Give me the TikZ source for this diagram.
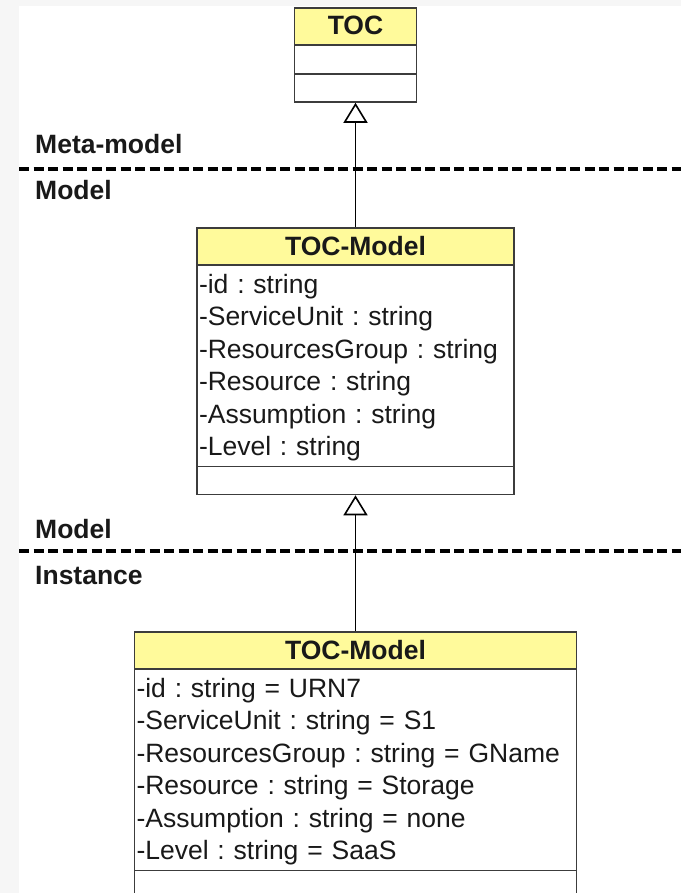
\documentclass[tikz,border=0pt]{standalone}
\usepackage{fontspec}
\setmainfont{Liberation Sans}
\usepackage{tikz}
\usetikzlibrary{shapes.multipart, positioning, arrows.meta}

\definecolor{umlyellow}{RGB}{255,250,155}
\definecolor{umlline}{RGB}{60,60,60}
\definecolor{pagegrey}{RGB}{246,246,246}
\setlength\parindent{0pt}
\frenchspacing
\newcommand\umlfont{\fontsize{26.5}{32.5}\selectfont}
\newcommand\umlhead[1]{\hfill\textbf{#1}\rule[-9.2pt]{0pt}{35.4pt}\hfill\null}
\newcommand\firstln{\rule{0pt}{27.2pt}}
\newcommand\lastln{\rule[-10.2pt]{0pt}{10.2pt}}

\begin{document}
\begin{tikzpicture}[x=1pt, y=-1pt,
	umlclass/.style={rectangle split, rectangle split parts=3, draw=umlline, line width=1.6pt,
		rectangle split part fill={umlyellow,white,white}, inner xsep=2pt, inner ysep=0pt,
		align=left, font=\umlfont, text=black!90, anchor=north},
	lvl/.style={anchor=base west, inner sep=0pt, font=\umlfont\bfseries, text=black!90},
	divider/.style={line width=3.5pt, dash pattern=on 10pt off 4.5pt},
	gen/.style={-{Triangle[open, length=20pt, width=24pt]}, line width=1.6pt}]
\useasboundingbox (0,0) rectangle (681,893);
\fill[pagegrey] (0,0) rectangle (681,893);
\fill[white] (19,6) rectangle (681,893);

\node[umlclass, text width=118pt] (toc) at (355.5,7.2)
	{\umlhead{TOC}\nodepart{two}\rule{0pt}{27.4pt}\nodepart{three}\rule{0pt}{26.4pt}};
\node[umlclass, text width=313pt] (tocmodel) at (355.5,227.2)
	{\umlhead{TOC-Model}
	\nodepart{two}\firstln-id : string\\
	-ServiceUnit : string\\
	-ResourcesGroup : string\\
	-Resource : string\\
	-Assumption : string\\
	-Level : string\lastln
	\nodepart{three}\rule{0pt}{26.4pt}};
\node[umlclass, text width=438pt] (tocinst) at (355.5,631.2)
	{\umlhead{TOC-Model}
	\nodepart{two}\firstln-id : string = URN7\\
	-ServiceUnit : string = S1\\
	-ResourcesGroup : string = GName\\
	-Resource : string = Storage\\
	-Assumption : string = none\\
	-Level : string = SaaS\lastln
	\nodepart{three}\rule{0pt}{26.4pt}};

\node[lvl] (meta) at (35,154) {Meta-model};
\node[lvl] (model1) at (35,200) {Model};
\node[lvl] (model2) at (35,538) {Model};
\node[lvl] (inst) at (35,584) {Instance};
\draw[divider] (19,169) -- (681,169);
\draw[divider] (19,551) -- (681,551);

\draw[gen] (tocmodel.north) -- (toc.south);
\draw[gen] (tocinst.north) -- (tocmodel.south);
\end{tikzpicture}
\end{document}
